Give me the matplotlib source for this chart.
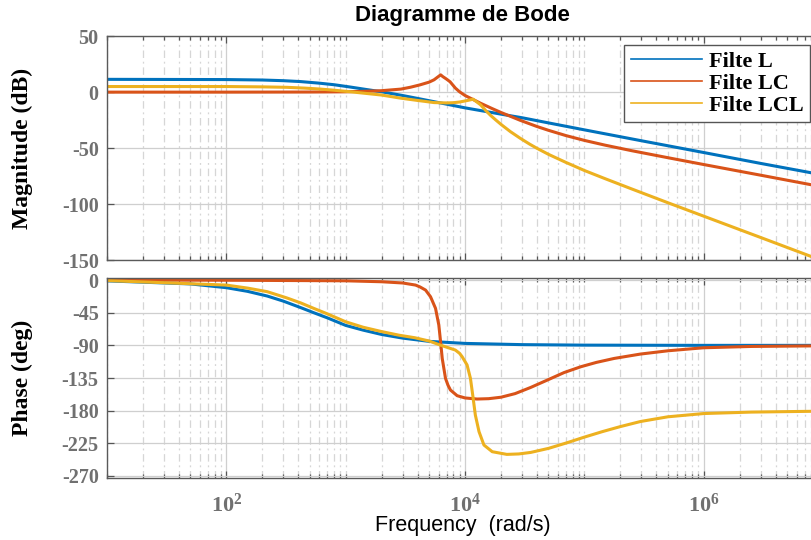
import math
import matplotlib
matplotlib.use('Agg')
import matplotlib.pyplot as plt
from matplotlib.lines import Line2D
from matplotlib.ticker import FixedLocator, LogLocator, NullFormatter, FuncFormatter

plt.rcParams['mathtext.fontset'] = 'custom'
plt.rcParams['mathtext.rm'] = 'Liberation Serif:bold'
plt.rcParams['mathtext.it'] = 'Liberation Serif:bold'
plt.rcParams['mathtext.bf'] = 'Liberation Serif:bold'
plt.rcParams['axes.unicode_minus'] = False

# values (frequency in rad/s)
labels = ['Filte L', 'Filte LC', 'Filte LCL']
colors = ['#0072BD', '#D95319', '#EDB120']

# --- magnitude (dB)
w_mag_L = [10, 100, 200, 300, 420, 600, 800, 1100, 1500, 2000, 3000, 4000, 6000,
           1e4, 2e4, 3e4, 5e4, 1e5, 3e5, 1e6, 3e6, 1e7]
mag_L = [11.4, 11.2, 10.8, 10.2, 9.4, 8.0, 6.6, 4.5, 2.3, 0.3, -3.0, -5.6, -9.3,
         -14.0, -19.6, -22.8, -27.4, -33.6, -43.3, -53.8, -63.5, -73.8]

w_mag_LC = [10, 100, 500, 1000, 1500, 2000, 2900, 3500, 4200, 5000, 5500, 6000, 6250,
            6500, 7000, 7500, 8300, 9000, 1e4, 1.35e4, 1.7e4, 2e4, 2.9e4, 4e4, 5e4,
            7e4, 1e5, 1.5e5, 2.5e5, 5e5, 1e6, 3e6, 1e7]
mag_LC = [0.0, 0.0, 0.1, 0.3, 0.8, 1.3, 2.7, 4.4, 6.5, 8.9, 11.0, 14.0, 15.4,
          13.9, 11.6, 9.2, 3.6, 0.3, -3.0, -9.9, -14.8, -18.1, -25.1, -30.6, -34.0,
          -38.7, -43.0, -47.3, -52.2, -58.4, -64.5, -74.0, -84.5]

w_mag_LCL = [10, 100, 200, 320, 450, 600, 800, 1100, 1500, 2000, 2900, 4000, 5500,
             7000, 8000, 9000, 1.04e4, 1.17e4, 1.35e4, 1.5e4, 1.64e4, 1.8e4, 2e4,
             2.4e4, 2.9e4, 3.5e4, 4e4, 5e4, 7e4, 1e5, 1.5e5, 2.5e5, 5e5, 1e6, 3e6, 1e7]
mag_LCL = [5.0, 5.0, 4.7, 4.3, 3.6, 2.8, 1.7, 0.3, -1.2, -2.6, -5.4, -7.4, -9.3,
           -9.6, -9.4, -8.8, -7.5, -6.3, -11.3, -16.7, -20.8, -24.6, -28.7,
           -35.2, -41.1, -46.5, -50.0, -55.4, -62.6, -69.8, -77.2, -86.3, -98.5,
           -110.5, -129.5, -150.4]

# --- phase (deg)
w_ph_L = [10, 50, 100, 150, 220, 300, 420, 540, 700, 1000, 1400, 2000, 3000, 5000,
          1e4, 3e4, 1e5, 1e6, 1e7]
ph_L = [-1.1, -5.3, -10.5, -15.5, -22, -29, -38, -45, -52, -62.5, -69, -75, -80, -84.5,
        -87.3, -89, -89.7, -90, -90]

w_ph_LC = [10, 100, 1000, 2000, 3000, 3850, 4200, 4670, 5140, 5660, 6030, 6240, 6440,
           6860, 7200, 7550, 8590, 1e4, 1.26e4, 1.58e4, 2e4, 2.63e4, 3.55e4, 4.9e4,
           6.76e4, 9.33e4, 1.26e5, 1.78e5, 2.95e5, 5e5, 1e6, 2.5e6, 1e7]
ph_LC = [0.0, -0.2, -1.0, -2.3, -4.0, -6.9, -9.5, -13.8, -23, -39, -62, -85, -108,
         -135.5, -145, -151.6, -159.4, -162.5, -164, -163.5, -161.5, -156.5, -148,
         -137.8, -127.5, -119.5, -113.5, -108, -102, -97.5, -93.3, -91.5, -90.6]

w_ph_LCL = [10, 100, 150, 220, 320, 420, 540, 700, 1000, 1400, 2000, 2800, 3800, 5000,
            6200, 8300, 9000, 9460, 1.04e4, 1.11e4, 1.16e4, 1.22e4, 1.31e4, 1.44e4,
            1.69e4, 2.24e4, 2.82e4, 3.55e4, 5.01e4, 7.08e4, 1e5, 1.41e5, 2e5, 2.95e5,
            5e5, 1e6, 2.5e6, 1e7]
ph_LCL = [-0.7, -6.9, -11, -16, -24.5, -31.5, -39, -46.5, -57.5, -65, -71, -76, -79.5,
          -84, -89.6, -96.5, -101, -105.7, -117, -135.5, -158.5, -186, -209, -227.4,
          -236.6, -240.3, -239.7, -237.6, -232, -224.5, -216.5, -209, -202, -195,
          -188.5, -184, -182, -180.7]

mag_ticks = [50, 0, -50, -100, -150]
phase_ticks = [0, -45, -90, -135, -180, -225, -270]

fig = plt.figure(figsize=(8.12, 5.40), dpi=100)
ax1 = fig.add_axes([0.1318, 0.5176, 0.8818, 0.4157])
ax2 = fig.add_axes([0.1318, 0.1157, 0.8818, 0.3694])

mag_data = [(w_mag_L, mag_L), (w_mag_LC, mag_LC), (w_mag_LCL, mag_LCL)]
ph_data = [(w_ph_L, ph_L), (w_ph_LC, ph_LC), (w_ph_LCL, ph_LCL)]
for (w, m), c in zip(mag_data, colors):
    ax1.semilogx(w, m, color=c, lw=2.2)
for (w, p), c in zip(ph_data, colors):
    ax2.semilogx(w, p, color=c, lw=2.2)

tick_gray = '#707070'
for ax in (ax1, ax2):
    ax.set_xlim(1e1, 1e7)
    ax.xaxis.set_major_locator(FixedLocator([1e2, 1e4, 1e6]))
    ax.xaxis.set_minor_locator(LogLocator(base=10, subs=range(1, 10), numticks=20))
    ax.xaxis.set_minor_formatter(NullFormatter())
    ax.grid(True, which='major', color='#cfcfcf', lw=0.9, ls='-')
    ax.grid(True, which='minor', axis='x', color='#d6d6d6', lw=0.9, ls=(0, (6, 3, 1.5, 3)))
    ax.set_axisbelow(True)
    ax.tick_params(which='both', direction='in', top=True, right=True,
                   color='#555555', width=0.9)
    ax.tick_params(which='major', length=5)
    ax.tick_params(which='minor', length=3)
    for s in ax.spines.values():
        s.set_color('#5a5a5a')
        s.set_linewidth(1.0)

ax1.set_ylim(-150, 50)
ax1.set_yticks(mag_ticks)
ax1.xaxis.set_major_formatter(NullFormatter())
ax2.set_ylim(-272.2, 2.8)
ax2.set_yticks(phase_ticks)
ax2.xaxis.set_major_formatter(FuncFormatter(lambda v, pos: r'$10^{%d}$' % round(math.log10(v))))

for ax in (ax1, ax2):
    ax.tick_params(axis='y', labelsize=14.5, labelcolor=tick_gray, pad=6)
    for lab in ax.get_yticklabels():
        lab.set_family('Liberation Serif')
        lab.set_fontweight('bold')
ax2.tick_params(axis='x', labelsize=16, labelcolor=tick_gray, pad=11)

ylab_font = dict(family='Liberation Serif', weight='bold', size=17, color='black')
ax1.set_ylabel('Magnitude (dB)', va='center', **ylab_font)
ax2.set_ylabel('Phase (deg)', va='center', **ylab_font)
ax1.yaxis.set_label_coords(-0.1175, 0.5)
ax2.yaxis.set_label_coords(-0.1175, 0.5)

ax2.set_xlabel('Frequency  (rad/s)', family='Liberation Sans', size=15.5, color='black', va='center')
ax2.xaxis.set_label_coords(0.497, (477.5 - 525) / 199.5)

fig.text(462 / 812, 1 - 15 / 540, 'Diagramme de Bode', family='Liberation Sans',
         weight='bold', size=16, ha='center', va='center')

handles = [Line2D([], [], color=c, lw=1.2) for c in colors]
leg = ax1.legend(handles, labels, loc='upper right',
                 bbox_to_anchor=(810 / 812, 1 - 45 / 540), bbox_transform=fig.transFigure,
                 borderaxespad=0, fancybox=False, framealpha=1, edgecolor='#555555',
                 prop=dict(family='Liberation Serif', weight='bold', size=16),
                 handlelength=3.2, handletextpad=0.3, labelspacing=0.05, borderpad=0.3)
leg.get_frame().set_linewidth(1.0)

fig.savefig('out.png', dpi=100)
